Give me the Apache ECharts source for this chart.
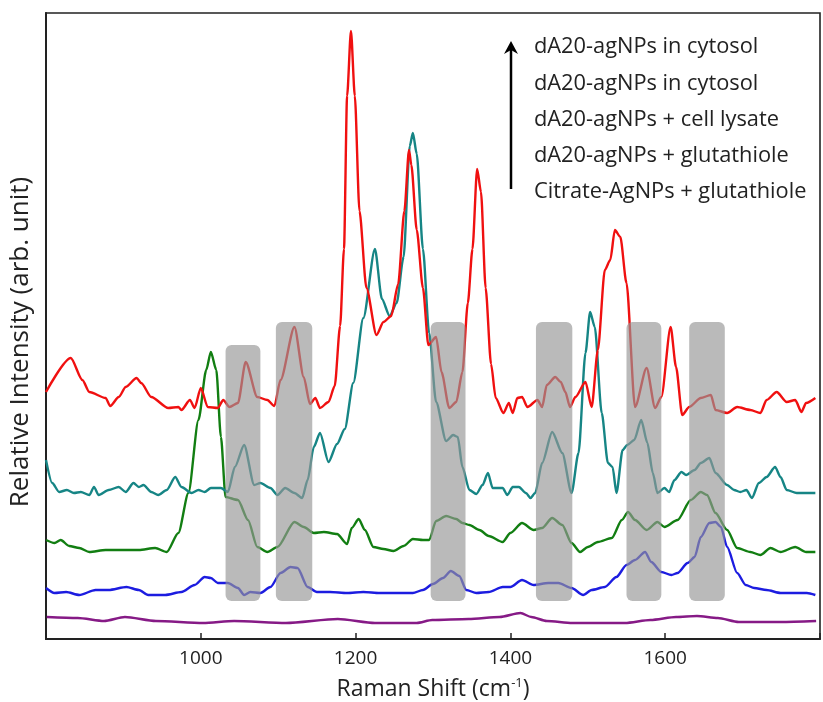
<!DOCTYPE html>
<html>
<head>
<meta charset="utf-8">
<script src="https://cdn.jsdelivr.net/npm/echarts@6/dist/echarts.min.js"></script>
<style>
html, body { margin: 0; padding: 0; background: #fff; }
#chart { width: 823px; height: 702px; }
</style>
</head>
<body>
<div id="chart"></div>
<script>
/*********************** data *******************************/
// x: Raman shift (cm-1), y: relative intensity (arb. unit, offset per trace)
var xTicks = [1000, 1200, 1400, 1600];

var legendLines = [
    'dA20-agNPs in cytosol',
    'dA20-agNPs in cytosol',
    'dA20-agNPs + cell lysate',
    'dA20-agNPs + glutathiole',
    'Citrate-AgNPs + glutathiole'
];

var redData = [
    [800,247],[832,281],[847,259],[856,247],[877,241],[883,233],[894,242],[903,252],[917,261],[923,256],
    [936,242],[958,231],[971,232],[975,229],[986,239],[992,231],[1000,251],[1009,232],[1022,231],[1029,239],
    [1037,232],[1048,236],[1058,277],[1073,242],[1086,239],[1095,233],[1103,259],[1121,312],[1133,262],[1141,235],
    [1148,241],[1154,231],[1165,237],[1173,253],[1180,313],[1185,390],[1189,543],[1194,608],[1199,543],[1205,428],
    [1214,351],[1227,304],[1236,317],[1246,323],[1255,355],[1263,428],[1269,489],[1272,474],[1279,409],[1287,351],
    [1294,294],[1304,302],[1311,267],[1321,231],[1330,237],[1338,267],[1345,336],[1351,390],[1357,470],[1362,447],
    [1368,351],[1375,275],[1381,241],[1391,226],[1398,236],[1403,226],[1409,241],[1415,242],[1422,232],[1435,239],
    [1441,232],[1447,254],[1458,262],[1465,257],[1471,247],[1477,232],[1484,242],[1497,257],[1505,232],[1513,289],
    [1522,369],[1529,379],[1535,409],[1542,402],[1550,356],[1561,232],[1576,271],[1587,231],[1595,242],[1607,312],
    [1614,272],[1622,224],[1631,232],[1646,241],[1659,244],[1665,229],[1680,226],[1693,232],[1710,229],[1723,226],
    [1731,239],[1744,247],[1757,237],[1768,239],[1776,227],[1782,236],[1794,241]
];

var tealData = [
    [800,179],[808,156],[817,147],[827,149],[836,146],[845,147],[856,144],[862,152],[868,144],[881,149],
    [894,152],[903,147],[913,156],[920,152],[926,154],[936,147],[945,144],[956,149],[967,162],[975,152],
    [988,146],[997,149],[1005,147],[1013,151],[1026,151],[1035,147],[1044,172],[1056,194],[1069,154],[1077,156],
    [1090,151],[1099,144],[1109,151],[1121,146],[1131,141],[1138,159],[1146,192],[1154,206],[1165,177],[1176,195],
    [1186,210],[1197,256],[1210,321],[1225,390],[1234,340],[1244,323],[1253,336],[1262,382],[1270,493],[1274,506],
    [1279,485],[1287,390],[1295,306],[1304,237],[1317,198],[1326,204],[1332,202],[1338,172],[1347,149],[1356,145],
    [1364,154],[1371,166],[1377,151],[1390,151],[1396,144],[1403,152],[1411,152],[1420,146],[1426,141],[1432,146],
    [1441,176],[1454,207],[1467,186],[1479,146],[1488,186],[1497,286],[1503,327],[1509,312],[1518,226],[1526,176],
    [1532,172],[1537,146],[1545,189],[1551,194],[1560,199],[1569,219],[1577,196],[1584,166],[1590,146],[1599,151],
    [1605,147],[1612,159],[1621,167],[1627,164],[1638,169],[1646,176],[1657,181],[1665,166],[1680,154],[1689,149],
    [1697,147],[1705,149],[1712,141],[1721,156],[1731,162],[1742,172],[1749,162],[1757,149],[1770,146],[1783,146],
    [1794,146]
];

var greenData = [
    [800,99],[811,96],[819,99],[830,93],[843,91],[856,87],[877,89],[898,89],[920,89],[941,91],
    [956,87],[971,106],[984,146],[997,219],[1007,269],[1013,287],[1020,269],[1026,202],[1032,142],[1048,139],
    [1061,119],[1073,92],[1086,87],[1099,92],[1121,117],[1133,112],[1146,106],[1159,107],[1176,105],[1189,95],
    [1195,111],[1204,120],[1212,109],[1223,92],[1236,90],[1249,88],[1262,93],[1274,100],[1287,99],[1295,99],
    [1304,118],[1317,123],[1330,120],[1338,116],[1347,114],[1360,109],[1372,103],[1390,97],[1400,106],[1415,116],
    [1430,109],[1441,111],[1454,121],[1467,114],[1479,96],[1490,87],[1500,92],[1513,97],[1531,101],[1544,119],
    [1552,127],[1561,119],[1576,109],[1590,117],[1599,112],[1616,119],[1633,139],[1646,147],[1654,144],[1665,126],
    [1680,109],[1693,91],[1710,87],[1723,84],[1736,91],[1749,87],[1768,92],[1782,87],[1794,87]
];

var blueData = [
    [800,51],[811,46],[826,47],[843,44],[864,49],[881,49],[904,52],[920,49],[932,44],[954,44],
    [975,47],[992,54],[1005,62],[1013,61],[1022,56],[1035,56],[1048,51],[1056,44],[1064,47],[1077,46],
    [1090,52],[1103,66],[1116,72],[1125,71],[1138,52],[1150,47],[1167,47],[1189,46],[1210,47],[1231,46],
    [1253,46],[1274,46],[1287,49],[1300,55],[1313,61],[1323,68],[1334,63],[1343,49],[1356,46],[1372,47],
    [1390,52],[1400,52],[1415,59],[1430,54],[1449,56],[1462,56],[1479,51],[1494,44],[1505,49],[1522,52],
    [1537,62],[1550,74],[1561,79],[1574,87],[1582,77],[1595,67],[1608,64],[1616,66],[1629,76],[1638,82],
    [1646,102],[1657,116],[1665,117],[1672,112],[1680,92],[1693,66],[1704,54],[1715,51],[1731,49],[1749,46],
    [1766,46],[1783,46],[1794,44]
];

var purpleData = [
    [801,22],[841,21],[875,18],[902,22],[942,18],[1003,16],[1043,18],[1110,16],[1177,20],[1225,16],
    [1279,16],[1299,19],[1346,20],[1386,22],[1413,26],[1427,22],[1447,18],[1480,16],[1548,16],[1581,19],
    [1614,22],[1641,23],[1668,21],[1695,17],[1749,17],[1795,18]
];

// highlighted bands: [xStart, xEnd, yBottom, yTop]
var bandData = [
    [1032,1077,38,294],
    [1097,1144,38,317],
    [1297,1342,38,317],
    [1433,1480,38,317],
    [1550,1595,38,317],
    [1631,1677,38,317]
];

/*********************** chart *******************************/
var FONT = 'Open Sans';
var chartsObj = echarts.init(document.getElementById('chart'), null, { renderer: 'canvas' });

function lineSeries(name, data, color) {
    return {
        name: name,
        type: 'line',
        data: data,
        showSymbol: false,
        smooth: 0.25,
        smoothMonotone: 'x',
        lineStyle: { color: color, width: 2.4 },
        z: 3,
        silent: true
    };
}

// legend block on the right-top: arrow + text lines
var graphics = [
    {
        type: 'line',
        shape: { x1: 511, y1: 189, x2: 511, y2: 50 },
        style: { stroke: '#000', lineWidth: 2.5 }
    },
    {
        type: 'polygon',
        shape: { points: [[511, 41], [504, 54], [511, 50], [518, 54]] },
        style: { fill: '#000' }
    },
    {
        type: 'text',
        x: 21, y: 342,
        rotation: Math.PI / 2,
        style: {
            text: 'Relative Intensity (arb. unit)',
            font: '26px "' + FONT + '"',
            fill: '#222',
            align: 'center',
            verticalAlign: 'middle'
        }
    },
    {
        type: 'text',
        x: 433, y: 689,
        style: {
            text: '{a|Raman Shift (cm}{s|-1}{a|)}',
            rich: {
                a: { font: '23px "' + FONT + '"', fill: '#222' },
                s: { font: '13px "' + FONT + '"', fill: '#222', verticalAlign: 'top', padding: [0, 0, 12, 0] }
            },
            align: 'center',
            verticalAlign: 'middle'
        }
    }
];
for (var i = 0; i < legendLines.length; i++) {
    graphics.push({
        type: 'text',
        x: 534, y: 47 + i * 36.3,
        style: {
            text: legendLines[i],
            font: '21.8px "' + FONT + '"',
            fill: '#222',
            align: 'left',
            verticalAlign: 'middle'
        }
    });
}

var option = {
    animation: false,
    backgroundColor: '#fff',
    grid: {
        left: 46,
        right: -2,
        top: 13,
        bottom: 63,
        show: true,
        borderColor: '#222',
        borderWidth: 1.6,
        backgroundColor: 'transparent'
    },
    xAxis: {
        type: 'value',
        min: 800,
        max: 1800,
        interval: 200,
        axisLine: { show: true, onZero: false, lineStyle: { color: '#222', width: 2 } },
        axisTick: { show: true, inside: true, length: 6, lineStyle: { color: '#222', width: 1.5 } },
        splitLine: { show: false },
        axisLabel: {
            margin: 10,
            color: '#222',
            fontFamily: FONT,
            fontSize: 19,
            formatter: function (value) {
                return xTicks.indexOf(value) === -1 ? '' : String(value);
            }
        }
    },
    yAxis: {
        type: 'value',
        min: 0,
        max: 626,
        axisLine: { show: true, lineStyle: { color: '#222', width: 2 } },
        axisTick: { show: false },
        axisLabel: { show: false },
        splitLine: { show: false }
    },
    graphic: graphics,
    series: [
        lineSeries('Citrate-AgNPs + glutathiole', purpleData, '#861a86'),
        lineSeries('dA20-agNPs + glutathiole', blueData, '#1c1ce0'),
        lineSeries('dA20-agNPs + cell lysate', greenData, '#127e12'),
        lineSeries('dA20-agNPs in cytosol', tealData, '#168585'),
        lineSeries('dA20-agNPs in cytosol', redData, '#f01010'),
        {
            type: 'custom',
            name: 'bands',
            silent: true,
            z: 10,
            encode: { x: [0, 1], y: [2, 3] },
            data: bandData,
            renderItem: function (params, api) {
                var p1 = api.coord([api.value(0), api.value(3)]);
                var p2 = api.coord([api.value(1), api.value(2)]);
                return {
                    type: 'rect',
                    shape: { x: p1[0], y: p1[1], width: p2[0] - p1[0], height: p2[1] - p1[1], r: 6 },
                    style: { fill: 'rgba(150,150,150,0.66)' }
                };
            }
        }
    ]
};

chartsObj.setOption(option);
</script>
</body>
</html>
